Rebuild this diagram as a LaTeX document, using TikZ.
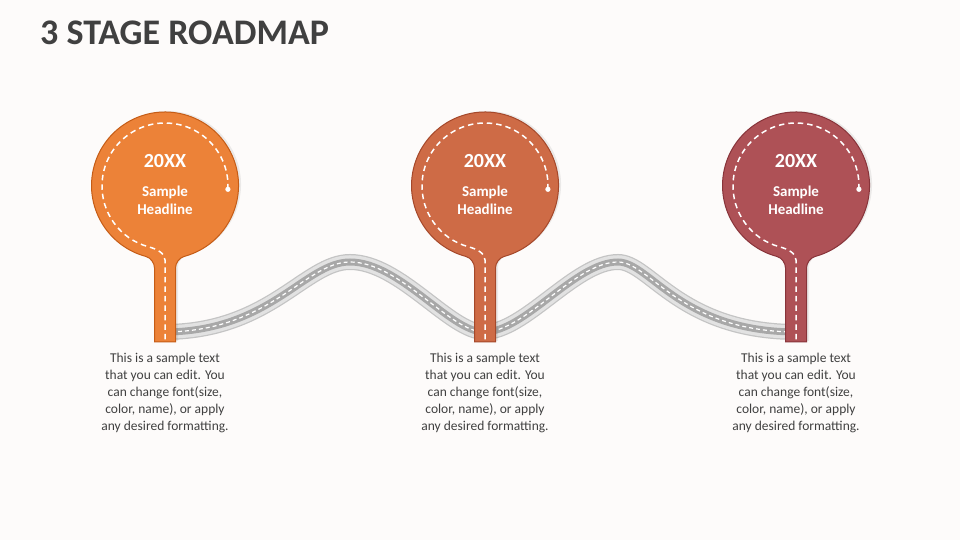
\documentclass[tikz,border=0pt]{standalone}
\usepackage{fontspec}
\setmainfont{Carlito}
\definecolor{bgc}{RGB}{253,251,250}
\definecolor{pinA}{RGB}{236,130,56}
\definecolor{pinAd}{RGB}{197,92,22}
\definecolor{pinB}{RGB}{206,107,70}
\definecolor{pinBd}{RGB}{165,72,42}
\definecolor{pinC}{RGB}{174,81,86}
\definecolor{pinCd}{RGB}{136,52,58}
\definecolor{txt}{RGB}{64,64,64}
\definecolor{roadedge}{RGB}{196,196,196}
\definecolor{roadbase}{RGB}{226,226,226}
\definecolor{roadlane}{RGB}{168,168,168}
\tikzset{
  roadouter/.style={draw=roadedge, line width=16pt},
  roadmid/.style={draw=roadbase, line width=13.5pt},
  roadin/.style={draw=roadlane, line width=7pt},
  roadmark/.style={draw=white, line width=1.2pt, dash pattern=on 4pt off 3pt},
  stitch/.style={draw=white, line width=1.5pt, dash pattern=on 5.5pt off 4pt},
  yeartext/.style={text=white, font=\fontsize{20}{24}\selectfont\bfseries, inner sep=0pt},
  headtext/.style={text=white, font=\fontsize{15}{18.5}\selectfont\bfseries, align=center, inner sep=0pt},
  bodytext/.style={text=txt, font=\fontsize{13.5}{17}\selectfont, align=center, inner sep=0pt},
  titletext/.style={text=txt, font=\fontsize{36}{40}\selectfont\bfseries, inner sep=0pt}
}
\newcommand\roadpin[4]{%
  \begin{scope}[shift={(#1,0)}]
    \fill[black, opacity=0.07, shift={(2.5,1)}]
      (-10.5,198) -- (-10.5,272) .. controls (-10.5,277) and (-14.3,282.3) .. (-19.0,283.5)
      arc[start angle=255, end angle=-75, radius=73.5]
      .. controls (14.3,282.3) and (10.5,277) .. (10.5,272) -- (10.5,198) -- cycle;
    \filldraw[fill=#2, draw=#3, line width=1pt]
      (-10.5,198) -- (-10.5,272) .. controls (-10.5,277) and (-14.3,282.3) .. (-19.0,283.5)
      arc[start angle=255, end angle=-75, radius=73.5]
      .. controls (14.3,282.3) and (10.5,277) .. (10.5,272) -- (10.5,198) -- cycle;
    \draw[stitch] (62.9,350.7) arc[start angle=-3, end angle=255, radius=63]
      .. controls (-8.6,291.1) and (0,287) .. (0,280) -- (0,198);
    \fill[white] (62.9,350.7) circle[radius=2.6];
    \coordinate (#4) at (0,198);
  \end{scope}}
\begin{document}
\begin{tikzpicture}[x=1pt,y=1pt]
  \fill[bgc] (0,0) rectangle (960,540);
  \useasboundingbox (0,0) rectangle (960,540);
  \node[titletext, anchor=base west] (title) at (40,495) {3 STAGE ROADMAP};
  % road
  \path[roadouter, postaction={roadmid}, postaction={roadin}, postaction={roadmark}]
    (164,208) .. controls (270,208) and (305,278) .. (350,278)
    .. controls (400,278) and (450,208) .. (484,208)
    .. controls (525,208) and (575,278) .. (618,278)
    .. controls (650,278) and (680,208) .. (797,208);
  % pins
  \roadpin{165}{pinA}{pinAd}{s1}
  \roadpin{485}{pinB}{pinBd}{s2}
  \roadpin{796}{pinC}{pinCd}{s3}
  \foreach \i/\x in {1/165, 2/485, 3/796}{
    \node[yeartext, anchor=base] (y\i) at (\x,372) {20XX};
    \node[headtext, anchor=base] (h\i) at (\x,325) {Sample\\Headline};
    \node[bodytext, anchor=north] (t\i) at (\x,187)
      {This is a sample text\\that you can edit. You\\can change font(size,\\color, name), or apply\\any desired formatting.};
  }
\end{tikzpicture}
\end{document}
